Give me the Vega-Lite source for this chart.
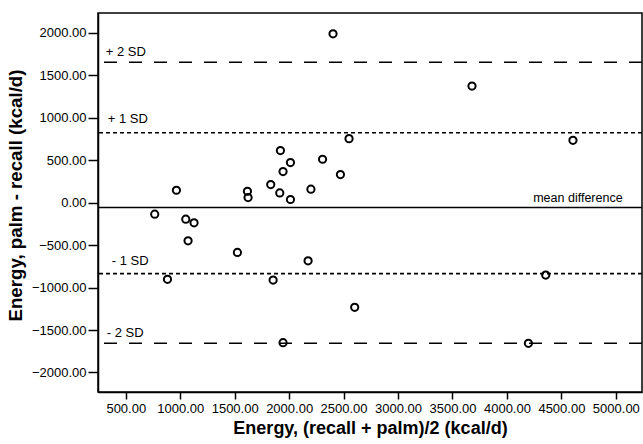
{
  "$schema": "https://vega.github.io/schema/vega-lite/v6.json",
  "width": 544,
  "height": 379,
  "autosize": {"type": "none"},
  "padding": {"left": 98, "top": 13, "right": 1, "bottom": 52},
  "background": "white",
  "config": {
    "font": "Liberation Sans",
    "view": {"stroke": "black", "strokeWidth": 1.5},
    "axis": {
      "grid": false,
      "domainColor": "black",
      "domainWidth": 1.5,
      "tickColor": "black",
      "tickWidth": 1.5,
      "tickSize": 8,
      "labelFont": "Liberation Sans",
      "labelFontSize": 13,
      "labelColor": "black",
      "titleFont": "Liberation Sans",
      "titleFontSize": 18,
      "titleFontWeight": "bold",
      "titleColor": "black"
    }
  },
  "datasets": {
    "points": [
      {"mean": 766, "diff": -135},
      {"mean": 965, "diff": 147},
      {"mean": 1051, "diff": -194},
      {"mean": 1127, "diff": -237},
      {"mean": 1617, "diff": 135},
      {"mean": 1623, "diff": 61},
      {"mean": 1831, "diff": 214},
      {"mean": 1914, "diff": 115},
      {"mean": 1920, "diff": 614},
      {"mean": 1944, "diff": 367},
      {"mean": 2012, "diff": 473},
      {"mean": 2012, "diff": 38},
      {"mean": 2200, "diff": 159},
      {"mean": 2307, "diff": 512},
      {"mean": 2403, "diff": 1990},
      {"mean": 3679, "diff": 1374},
      {"mean": 2550, "diff": 755},
      {"mean": 2471, "diff": 332},
      {"mean": 4606, "diff": 735},
      {"mean": 1072, "diff": -449},
      {"mean": 1525, "diff": -586},
      {"mean": 2174, "diff": -684},
      {"mean": 883, "diff": -903},
      {"mean": 1853, "diff": -911},
      {"mean": 1944, "diff": -1649},
      {"mean": 2602, "diff": -1232},
      {"mean": 4356, "diff": -853},
      {"mean": 4197, "diff": -1656}
    ],
    "lines": [
      {"value": 1655, "style": "long"},
      {"value": 824, "style": "short"},
      {"value": -57, "style": "solid"},
      {"value": -835, "style": "short"},
      {"value": -1655, "style": "long"}
    ],
    "labels": [
      {"label": "+ 2 SD", "x": 316, "y": 1770},
      {"label": "+ 1 SD", "x": 335, "y": 982},
      {"label": "- 1 SD", "x": 371, "y": -688},
      {"label": "- 2 SD", "x": 326, "y": -1535}
    ],
    "meanlabel": [
      {"label": "mean difference", "x": 5062, "y": 53}
    ]
  },
  "layer": [
    {
      "data": {"name": "lines"},
      "mark": {"type": "rule", "color": "black"},
      "encoding": {
        "y": {"field": "value", "type": "quantitative", "scale": {"domain": [-2230, 2235], "nice": false, "zero": false}},
        "strokeDash": {"field": "style", "type": "nominal", "scale": {"domain": ["solid", "long", "short"], "range": [[1, 0], [13, 12], [4, 3]]}, "legend": null},
        "strokeWidth": {"field": "style", "type": "nominal", "scale": {"domain": ["solid", "long", "short"], "range": [1.5, 1.6, 1.2]}, "legend": null}
      }
    },
    {
      "data": {"name": "points"},
      "mark": {"type": "point", "shape": "circle", "filled": false, "color": "black", "strokeWidth": 2, "size": 52, "opacity": 1},
      "encoding": {
        "x": {
          "field": "mean", "type": "quantitative",
          "scale": {"domain": [245, 5240], "nice": false, "zero": false},
          "axis": {"title": "Energy, (recall + palm)/2 (kcal/d)", "values": [500, 1000, 1500, 2000, 2500, 3000, 3500, 4000, 4500, 5000], "format": ".2f", "tickSize": 7, "labelPadding": 3, "titlePadding": 4}
        },
        "y": {
          "field": "diff", "type": "quantitative",
          "scale": {"domain": [-2230, 2235], "nice": false, "zero": false},
          "axis": {"title": "Energy, palm - recall (kcal/d)", "values": [-2000, -1500, -1000, -500, 0, 500, 1000, 1500, 2000], "format": ".2f", "tickSize": 10, "labelPadding": 2, "titlePadding": 6, "titleFontSize": 18.7, "titleY": 182}
        }
      }
    },
    {
      "data": {"name": "labels"},
      "mark": {"type": "text", "align": "left", "baseline": "middle", "fontSize": 13, "color": "black", "font": "Liberation Sans"},
      "encoding": {
        "x": {"field": "x", "type": "quantitative"},
        "y": {"field": "y", "type": "quantitative"},
        "text": {"field": "label"}
      }
    },
    {
      "data": {"name": "meanlabel"},
      "mark": {"type": "text", "align": "right", "baseline": "middle", "fontSize": 12.5, "color": "black", "font": "Liberation Sans"},
      "encoding": {
        "x": {"field": "x", "type": "quantitative"},
        "y": {"field": "y", "type": "quantitative"},
        "text": {"field": "label"}
      }
    }
  ]
}
